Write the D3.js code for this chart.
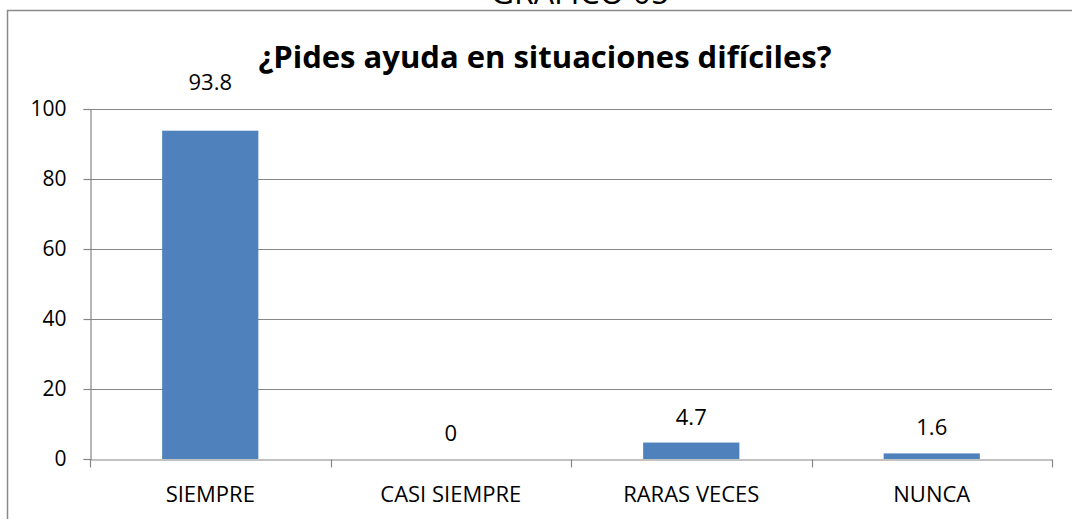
<!DOCTYPE html>
<html>
<head>
<meta charset="utf-8">
<script src="https://cdn.jsdelivr.net/npm/d3@7"></script>
<style>
  html, body { margin: 0; padding: 0; background: #fff; }
  svg { display: block; font-family: "Open Sans", "Liberation Sans", sans-serif; }
</style>
</head>
<body>
<svg id="chart" width="1072" height="519"></svg>
<script>
// ---- data ----
const categories = ["SIEMPRE", "CASI SIEMPRE", "RARAS VECES", "NUNCA"];
const values = [93.8, 0, 4.7, 1.6];
const valueLabels = ["93.8", "0", "4.7", "1.6"];
const yTicks = [0, 20, 40, 60, 80, 100];
const chartTitle = "¿Pides ayuda en situaciones difíciles?";
const pageHeading = "GRAFICO 05";

// ---- layout ----
const W = 1072, H = 519;
const plot = { left: 90, right: 1052, top: 109, bottom: 459 };
const gridColor = "#868686";
const barColor = "#4F81BD";

const svg = d3.select("#chart");

// page heading (cut off at the top edge)
svg.append("text")
  .attr("x", 580).attr("y", 4)
  .attr("text-anchor", "middle")
  .attr("font-size", 32)
  .attr("fill", "#000")
  .text(pageHeading);

// chart frame
svg.append("rect")
  .attr("x", 7.5).attr("y", 10.5)
  .attr("width", W + 20).attr("height", H + 20)
  .attr("fill", "#fff")
  .attr("stroke", "#8a8a8a").attr("stroke-width", 1.5);

const x = d3.scaleBand().domain(categories).range([plot.left, plot.right]).padding(0);
const y = d3.scaleLinear().domain([0, 100]).range([plot.bottom, plot.top]);

// gridlines
svg.append("g")
  .selectAll("line").data(yTicks.filter(d => d > 0)).join("line")
  .attr("x1", plot.left).attr("x2", plot.right)
  .attr("y1", d => Math.round(y(d)) + 0.5).attr("y2", d => Math.round(y(d)) + 0.5)
  .attr("stroke", gridColor).attr("stroke-width", 1.2);

// y axis
const yAxis = d3.axisLeft(y).tickValues(yTicks).tickSize(7).tickPadding(17).tickFormat(d3.format("d"));
const gy = svg.append("g").attr("transform", `translate(${plot.left + 0.5},0)`).call(yAxis);
gy.select(".domain").attr("stroke", gridColor).attr("stroke-width", 1.2);
gy.selectAll(".tick line").attr("stroke", gridColor).attr("stroke-width", 1.2);
gy.selectAll(".tick text").attr("font-size", 21).attr("fill", "#000")
  .attr("font-family", "'Open Sans', sans-serif");

// bars
const barW = x.bandwidth() / 2.5;
svg.append("g")
  .selectAll("rect").data(values).join("rect")
  .attr("x", (d, i) => x(categories[i]) + (x.bandwidth() - barW) / 2)
  .attr("width", barW)
  .attr("y", d => y(d))
  .attr("height", d => y(0) - y(d))
  .attr("fill", barColor);

// x axis
const xAxis = d3.axisBottom(x).tickSize(0).tickPadding(27);
const gx = svg.append("g").attr("transform", `translate(0,${plot.bottom + 0.5})`).call(xAxis);
gx.select(".domain").attr("stroke", gridColor).attr("stroke-width", 1.2);
gx.selectAll(".tick text").attr("font-size", 22).attr("fill", "#000")
  .attr("font-family", "'Open Sans', sans-serif");
// category boundary tick marks
const bounds = categories.map(c => x(c)).concat([x.range()[1]]);
gx.selectAll(".bound").data(bounds).join("line").attr("class", "bound")
  .attr("x1", d => Math.round(d) + 0.5).attr("x2", d => Math.round(d) + 0.5)
  .attr("y1", 0).attr("y2", 8)
  .attr("stroke", gridColor).attr("stroke-width", 1.2);

// value labels
const maxV = d3.max(values);
svg.append("g")
  .selectAll("text").data(values).join("text")
  .attr("x", (d, i) => x(categories[i]) + x.bandwidth() / 2)
  .attr("y", d => d === maxV ? y(d) - 41 : y(d) - 18)
  .attr("text-anchor", "middle")
  .attr("font-size", 22).attr("fill", "#000")
  .text((d, i) => valueLabels[i]);

// title
svg.append("text")
  .attr("x", 545).attr("y", 68)
  .attr("text-anchor", "middle")
  .attr("font-size", 31).attr("font-weight", "bold").attr("fill", "#000")
  .text(chartTitle);
</script>
</body>
</html>
